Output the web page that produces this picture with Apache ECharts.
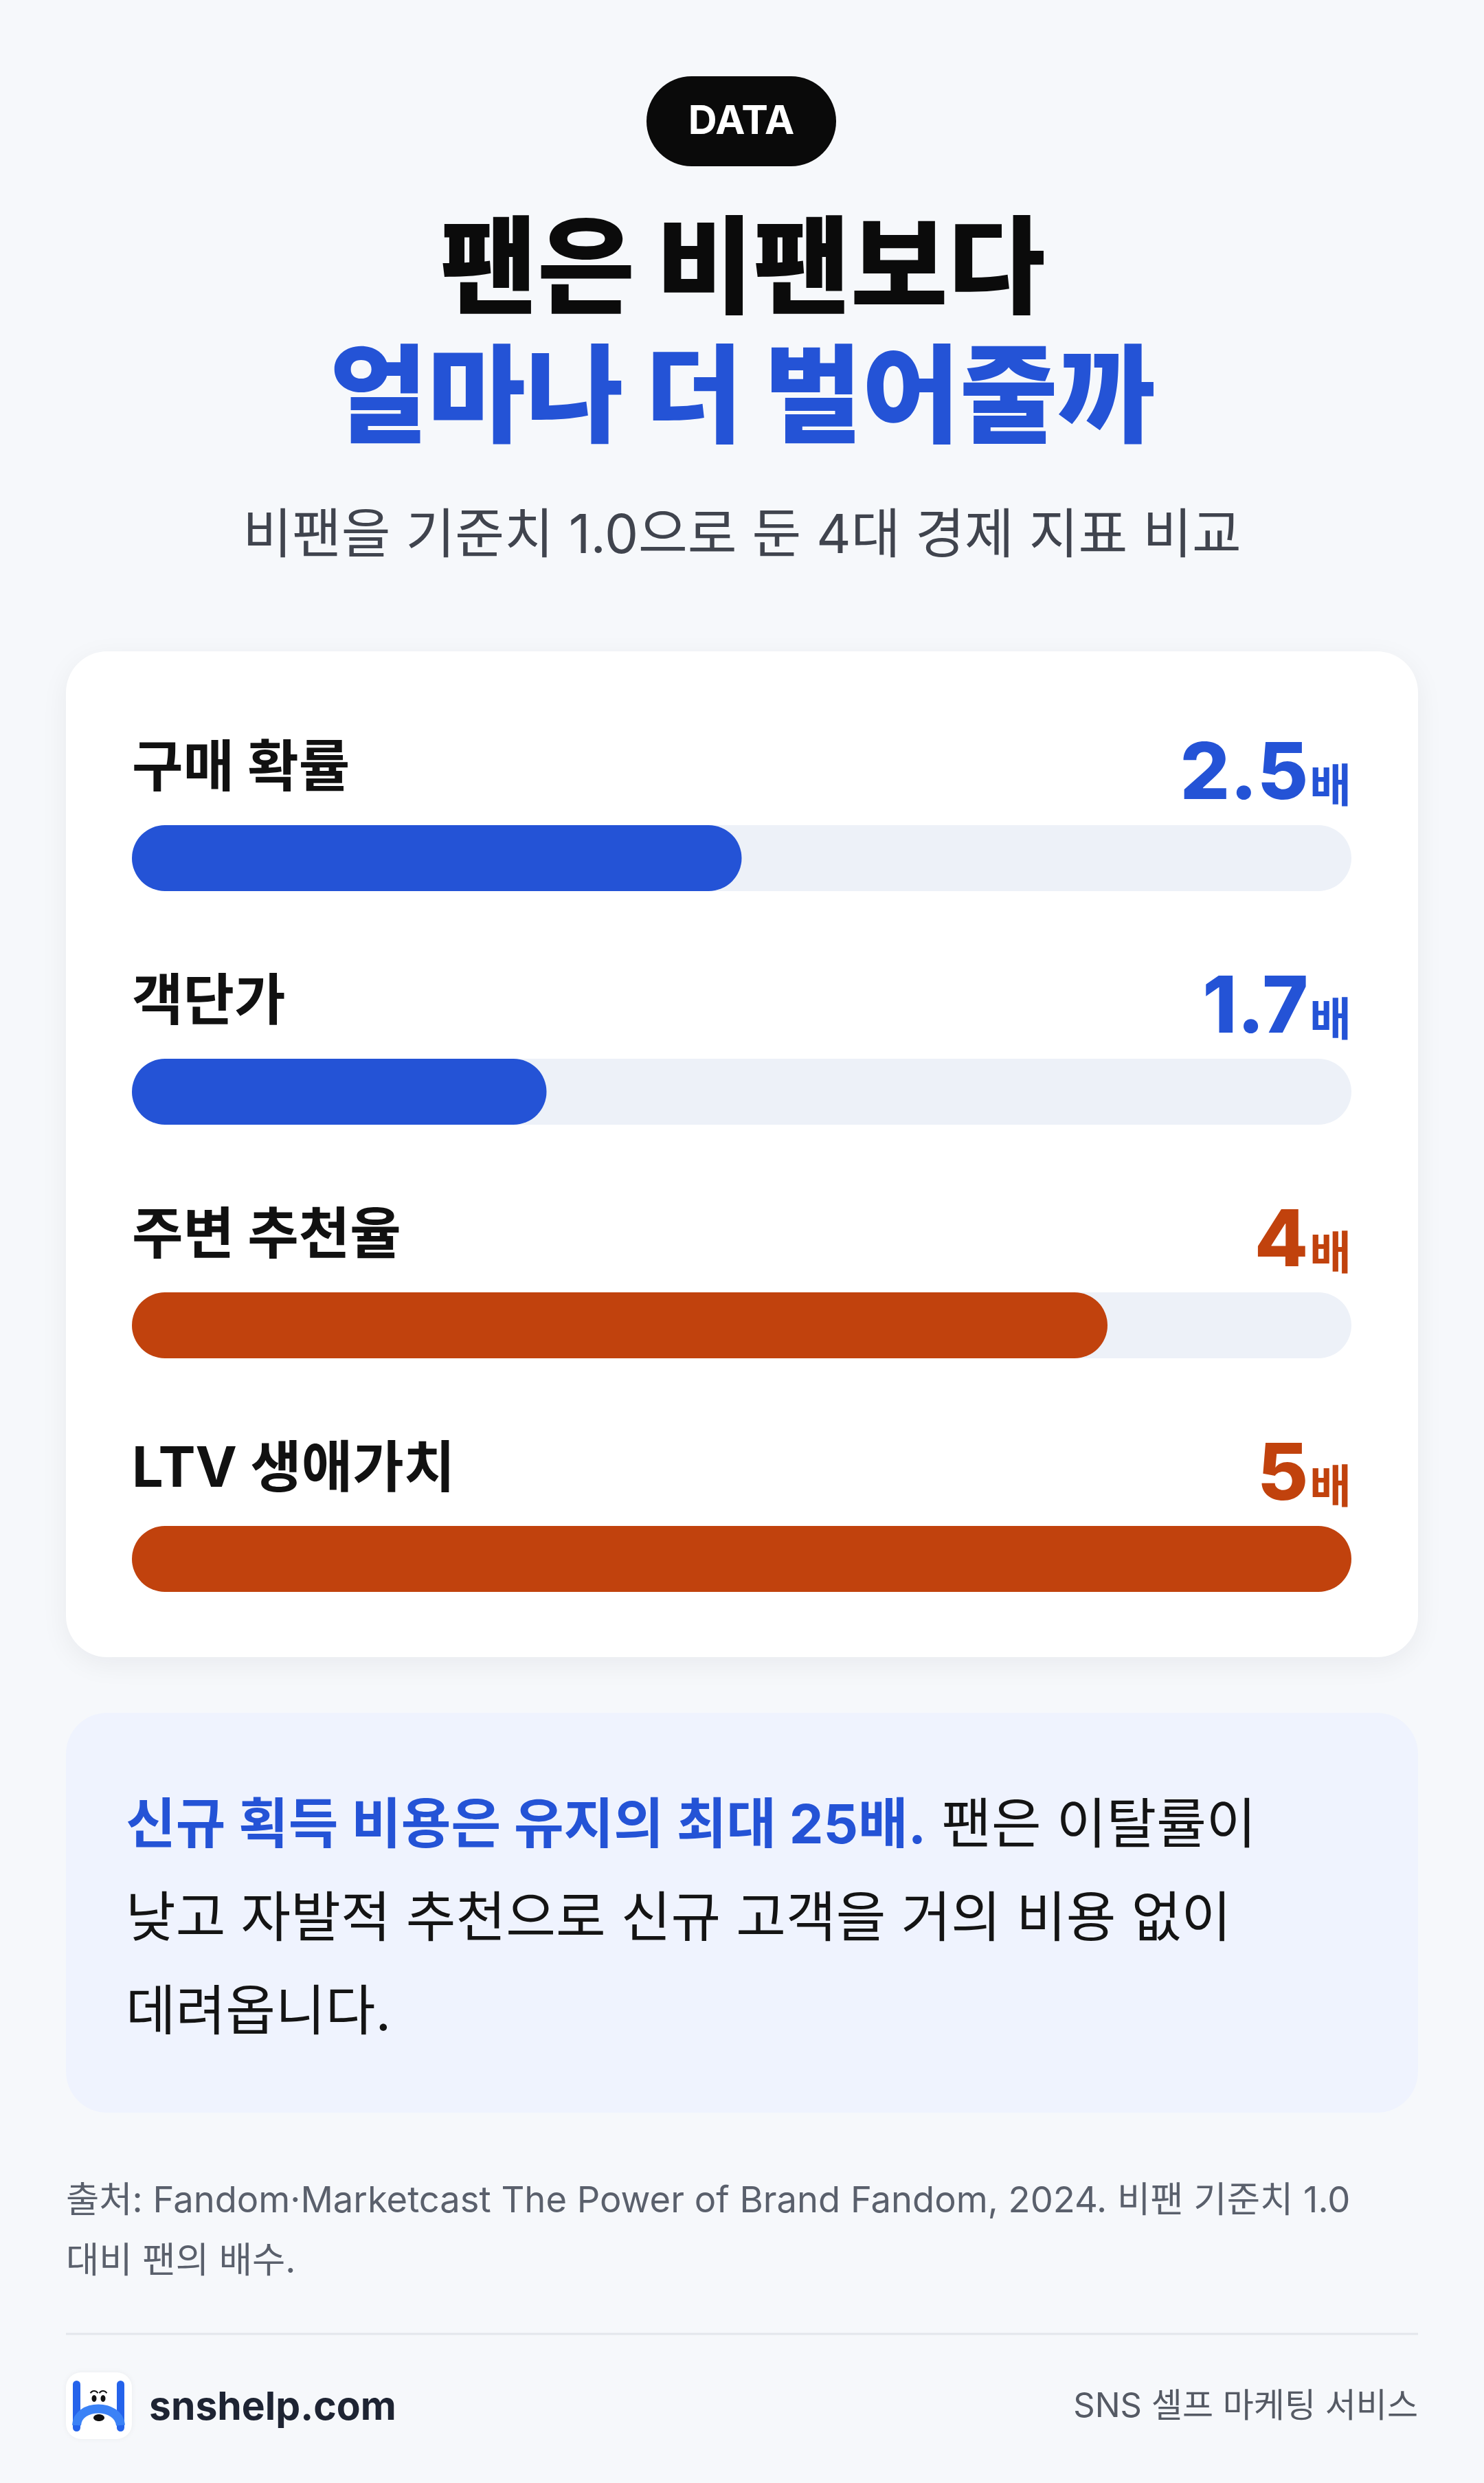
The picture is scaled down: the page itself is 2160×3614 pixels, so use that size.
<!DOCTYPE html>
<html><head><meta charset="utf-8">
<script src="https://cdn.jsdelivr.net/npm/echarts@6/dist/echarts.min.js"></script>
<style>html,body{margin:0;padding:0;background:#F6F8FB}#c{width:2160px;height:3614px}</style>
</head><body><div id="c"></div>
<script>
// ---- data ----
const categories = ['구매 확률', '객단가', '주변 추천율', 'LTV 생애가치'];
const multiples = [2.5, 1.7, 4, 5];
const unitLabel = '배';
const axisMin = 0;
const axisMax = 5;
const badgeText = 'DATA';
const titleLine1 = '팬은 비팬보다';
const titleLine2 = '얼마나 더 벌어줄까';
const subtitle = '비팬을 기준치 1.0으로 둔 4대 경제 지표 비교';
const noteBold = '신규 획득 비용은 유지의 최대 25배.';
const noteLines = [' 팬은 이탈률이', '낮고 자발적 추천으로 신규 고객을 거의 비용 없이', '데려옵니다.'];
const sourceLines = ['출처: Fandom·Marketcast The Power of Brand Fandom, 2024. 비팬 기준치 1.0', '대비 팬의 배수.'];
const brand = 'snshelp.com';
const tagline = 'SNS 셀프 마케팅 서비스';

// ---- style ----
const FONT = "Inter, 'Noto Sans CJK KR', sans-serif";
const BLUE = '#2453D6';
const ORANGE = '#C1420D';
const barColorKeys = ['b', 'b', 'o', 'o'];
const palette = { b: BLUE, o: ORANGE };
const GRID_L = 192, GRID_R = 1967, GRID_TOP = 1079, BAND = 340;

const chart = echarts.init(document.getElementById('c'), null, { renderer: 'canvas' });

const rich = {
  name: { fontFamily: FONT, fontSize: 81, fontWeight: 700, color: '#111111', verticalAlign: 'bottom', padding: [0, 0, 26, 0] }
};
Object.keys(palette).forEach(k => {
  rich[k + 'v'] = { fontFamily: FONT, fontSize: 114, fontWeight: 800, color: palette[k], align: 'right', lineHeight: 114, verticalAlign: 'bottom' };
  rich[k + 'u'] = { fontFamily: FONT, fontSize: 66, fontWeight: 700, color: palette[k], align: 'right', verticalAlign: 'bottom', padding: [0, 0, 6, 2] };
});

const option = {
  animation: false,
  backgroundColor: '#F6F8FB',
  grid: { left: GRID_L, right: 2160 - GRID_R, top: GRID_TOP, height: BAND * categories.length, containLabel: false },
  xAxis: { type: 'value', min: axisMin, max: axisMax, show: false },
  yAxis: { type: 'category', data: categories, inverse: true, show: false },
  series: [{
    type: 'bar',
    z: 5,
    barWidth: 96,
    data: multiples.map((v, i) => ({ value: v, itemStyle: { color: palette[barColorKeys[i]] } })),
    itemStyle: { borderRadius: 48 },
    showBackground: true,
    backgroundStyle: { color: '#EDF1F8', borderRadius: 48 },
    label: {
      show: true,
      position: [0, -15],
      align: 'left',
      verticalAlign: 'bottom',
      width: GRID_R - GRID_L,
      formatter: p => {
        const k = barColorKeys[p.dataIndex];
        return '{name|' + categories[p.dataIndex] + '}{' + k + 'v|' + String(p.value) + '}{' + k + 'u|' + unitLabel + '}';
      },
      rich: rich
    }
  }],
  graphic: { elements: [
    // badge
    { type: 'rect', z: 1, shape: { x: 941, y: 111, width: 276, height: 131, r: 65.5 }, style: { fill: '#0A0A0A' } },
    { type: 'text', z: 2, style: { text: badgeText, x: 1079, y: 178, align: 'center', verticalAlign: 'middle', fill: '#FFFFFF', fontFamily: FONT, fontSize: 58, fontWeight: 700 } },
    // titles
    { type: 'text', z: 2, style: { text: titleLine1, x: 1081, y: 398, align: 'center', verticalAlign: 'middle', fill: '#0B0B0B', fontFamily: FONT, fontSize: 154, fontWeight: 900 } },
    { type: 'text', z: 2, style: { text: titleLine2, x: 1081, y: 584, align: 'center', verticalAlign: 'middle', fill: BLUE, fontFamily: FONT, fontSize: 155, fontWeight: 900 } },
    { type: 'text', z: 2, style: { text: subtitle, x: 1080, y: 782, align: 'center', verticalAlign: 'middle', fill: '#40444E', fontFamily: FONT, fontSize: 78, fontWeight: 400 } },
    // card
    { type: 'rect', z: 0, shape: { x: 96, y: 948, width: 1968, height: 1464, r: 60 }, style: { fill: '#FFFFFF', shadowBlur: 40, shadowColor: 'rgba(15,23,42,0.06)', shadowOffsetY: 10 } },
    // callout
    { type: 'rect', z: 0, shape: { x: 96, y: 2493, width: 1968, height: 582, r: 60 }, style: { fill: '#EFF3FE' } },
    { type: 'text', z: 2, style: {
        text: '{hb|' + noteBold + '}{n|' + noteLines[0] + '}\n{n|' + noteLines[1] + '}\n{n|' + noteLines[2] + '}',
        x: 183, y: 2591, align: 'left', verticalAlign: 'top', lineHeight: 136,
        rich: {
          hb: { fontFamily: FONT, fontSize: 79, fontWeight: 700, fill: BLUE, lineHeight: 136 },
          n: { fontFamily: FONT, fontSize: 79, fontWeight: 400, fill: '#141414', lineHeight: 136 }
        } } },
    // source
    { type: 'text', z: 2, style: { text: sourceLines.join('\n'), x: 96, y: 3160, align: 'left', verticalAlign: 'top', lineHeight: 88, fill: '#5A606C', fontFamily: FONT, fontSize: 52.5, fontWeight: 400 } },
    // divider
    { type: 'line', z: 1, shape: { x1: 96, y1: 3397, x2: 2064, y2: 3397 }, style: { stroke: '#E3E6EB', lineWidth: 3 } },
    // logo
    { type: 'rect', z: 1, shape: { x: 96, y: 3453, width: 96, height: 97, r: 22 }, style: { fill: '#FFFFFF', shadowBlur: 8, shadowColor: 'rgba(0,0,0,0.05)' } },
    { type: 'rect', z: 2, shape: { x: 106, y: 3465, width: 11, height: 74, r: 5.5 }, style: { fill: '#2563EB' } },
    { type: 'rect', z: 2, shape: { x: 170, y: 3465, width: 11, height: 74, r: 5.5 }, style: { fill: '#2563EB' } },
    { type: 'bezierCurve', z: 2, shape: { x1: 111.5, y1: 3530, cpx1: 113, cpy1: 3498, cpx2: 173, cpy2: 3498, x2: 175.5, y2: 3530 }, style: { stroke: '#3B82F6', lineWidth: 13, fill: null } },
    { type: 'ellipse', z: 3, shape: { cx: 137, cy: 3491, rx: 3.5, ry: 5 }, style: { fill: '#111111' } },
    { type: 'ellipse', z: 3, shape: { cx: 150, cy: 3491, rx: 3.5, ry: 5 }, style: { fill: '#111111' } },
    { type: 'arc', z: 3, shape: { cx: 137, cy: 3486, r: 6, startAngle: Math.PI * 1.15, endAngle: Math.PI * 1.85 }, style: { stroke: '#111111', lineWidth: 2, fill: null } },
    { type: 'arc', z: 3, shape: { cx: 150, cy: 3486, r: 6, startAngle: Math.PI * 1.15, endAngle: Math.PI * 1.85 }, style: { stroke: '#111111', lineWidth: 2, fill: null } },
    { type: 'ellipse', z: 3, shape: { cx: 144, cy: 3519, rx: 8, ry: 5 }, style: { fill: '#111111' } },
    { type: 'text', z: 2, style: { text: brand, x: 217, y: 3505, align: 'left', verticalAlign: 'middle', fill: '#1E2433', fontFamily: FONT, fontSize: 57, fontWeight: 700 } },
    { type: 'text', z: 2, style: { text: tagline, x: 2064, y: 3503, align: 'right', verticalAlign: 'middle', fill: '#555A64', fontFamily: FONT, fontSize: 49, fontWeight: 400 } }
  ] }
};
chart.setOption(option);
</script>
</body></html>
